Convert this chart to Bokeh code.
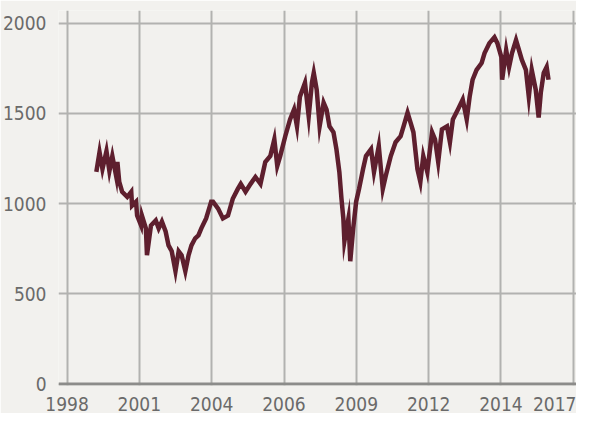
from bokeh.plotting import figure
from bokeh.models import FixedTicker, Span, Range1d, ColumnDataSource
from bokeh.embed import file_html
from bokeh.resources import INLINE

# decimal year, index level
years = [1999.10, 1999.22, 1999.33, 1999.48, 1999.59, 1999.70, 1999.85, 1999.89, 1999.96,
         2000.07, 2000.26, 2000.41, 2000.44, 2000.59, 2000.63, 2000.78, 2000.81, 2000.96,
         2001.00, 2001.15, 2001.33, 2001.44, 2001.56, 2001.70, 2001.81, 2001.93,
         2002.07, 2002.19, 2002.30, 2002.44, 2002.56, 2002.67, 2002.81, 2002.93,
         2003.04, 2003.22, 2003.41, 2003.48, 2003.67, 2003.85,
         2004.04, 2004.22, 2004.41, 2004.52, 2004.70, 2004.89,
         2005.07, 2005.26, 2005.44, 2005.63, 2005.78, 2005.89,
         2006.00, 2006.19, 2006.37, 2006.52, 2006.63, 2006.74, 2006.93,
         2007.07, 2007.19, 2007.26, 2007.37, 2007.48, 2007.63, 2007.74, 2007.85,
         2008.00, 2008.11, 2008.22, 2008.30, 2008.37, 2008.41, 2008.56, 2008.63, 2008.74, 2008.85, 2008.96,
         2009.11, 2009.22, 2009.41, 2009.52, 2009.70, 2009.85, 2009.96,
         2010.15, 2010.33, 2010.52, 2010.63, 2010.78, 2010.89,
         2011.00, 2011.15, 2011.26, 2011.37, 2011.52, 2011.70, 2011.81, 2011.93,
         2012.07, 2012.26, 2012.37, 2012.48, 2012.67, 2012.85,
         2013.00, 2013.11, 2013.22, 2013.37, 2013.56, 2013.67, 2013.85,
         2014.04, 2014.15, 2014.30, 2014.33, 2014.48, 2014.59, 2014.70, 2014.85, 2014.96,
         2015.07, 2015.22, 2015.33, 2015.44, 2015.59, 2015.70, 2015.78, 2015.89,
         2016.00, 2016.07]
values = [1176, 1286, 1192, 1291, 1181, 1264, 1148, 1231, 1121,
          1066, 1038, 1066, 989, 1011, 934, 879, 934, 863,
          714, 879, 907, 863, 901, 846, 769, 736,
          626, 736, 714, 626, 714, 769, 808, 824,
          863, 918, 1011, 1011, 973, 918,
          934, 1027, 1082, 1110, 1066, 1110,
          1148, 1110, 1231, 1264, 1357, 1209,
          1264, 1374, 1467, 1522, 1429, 1593, 1670,
          1484, 1670, 1725, 1632, 1429, 1560, 1522, 1429,
          1396, 1302, 1176, 1027, 918, 791, 918, 681, 863, 1011, 1082,
          1192, 1264, 1302, 1176, 1319, 1082, 1154,
          1264, 1341, 1374, 1429, 1505, 1451,
          1396, 1192, 1121, 1264, 1176, 1396, 1357, 1231,
          1412, 1429, 1341, 1467, 1522, 1577,
          1467, 1593, 1687, 1742, 1780, 1835, 1890,
          1923, 1890, 1813, 1687, 1852, 1758, 1835, 1907, 1852,
          1797, 1742, 1593, 1742, 1632, 1478, 1615, 1725,
          1758, 1687]

x_tick_labels = ["1998", "2001", "2004", "2006", "2009", "2012", "2014", "2017"]
x_tick_pos = [round(1998 + k * 19 / 7, 4) for k in range(len(x_tick_labels))]
y_ticks = [0, 500, 1000, 1500, 2000]

BG = "#f2f1ee"
GRID = "#b2b2b0"
TXT = "#6a6a6a"
FONT = "DejaVu Sans Condensed"

p = figure(width=576, height=413, output_backend="svg", toolbar_location=None,
           x_range=Range1d(1997.68, 2017.12), y_range=Range1d(-8, 2071),
           background_fill_color=BG, border_fill_color=BG,
           min_border_left=52, min_border_right=0, min_border_top=10, min_border_bottom=20)
p.outline_line_color = None

p.xaxis.ticker = FixedTicker(ticks=x_tick_pos)
p.xaxis.major_label_overrides = {pos: lab for pos, lab in zip(x_tick_pos, x_tick_labels)}
p.yaxis.ticker = FixedTicker(ticks=y_ticks)

for ax in (p.xaxis, p.yaxis):
    ax.axis_line_color = None
    ax.major_tick_line_color = None
    ax.minor_tick_line_color = None
    ax.major_label_text_font = FONT
    ax.major_label_text_font_size = "19px"
    ax.major_label_text_color = TXT
p.xaxis.major_label_standoff = 5
p.yaxis.major_label_standoff = 6

p.xgrid.grid_line_color = GRID
p.xgrid.grid_line_width = 2
p.ygrid.grid_line_color = GRID
p.ygrid.grid_line_width = 2

p.add_layout(Span(location=0, dimension="width", line_color="#8c8c8a", line_width=3))

src = ColumnDataSource(dict(x=years, y=values))
p.line("x", "y", source=src, line_color="#5e1f2e", line_width=4.5, line_join="miter")

open("out.html", "w").write(file_html(p, INLINE))
